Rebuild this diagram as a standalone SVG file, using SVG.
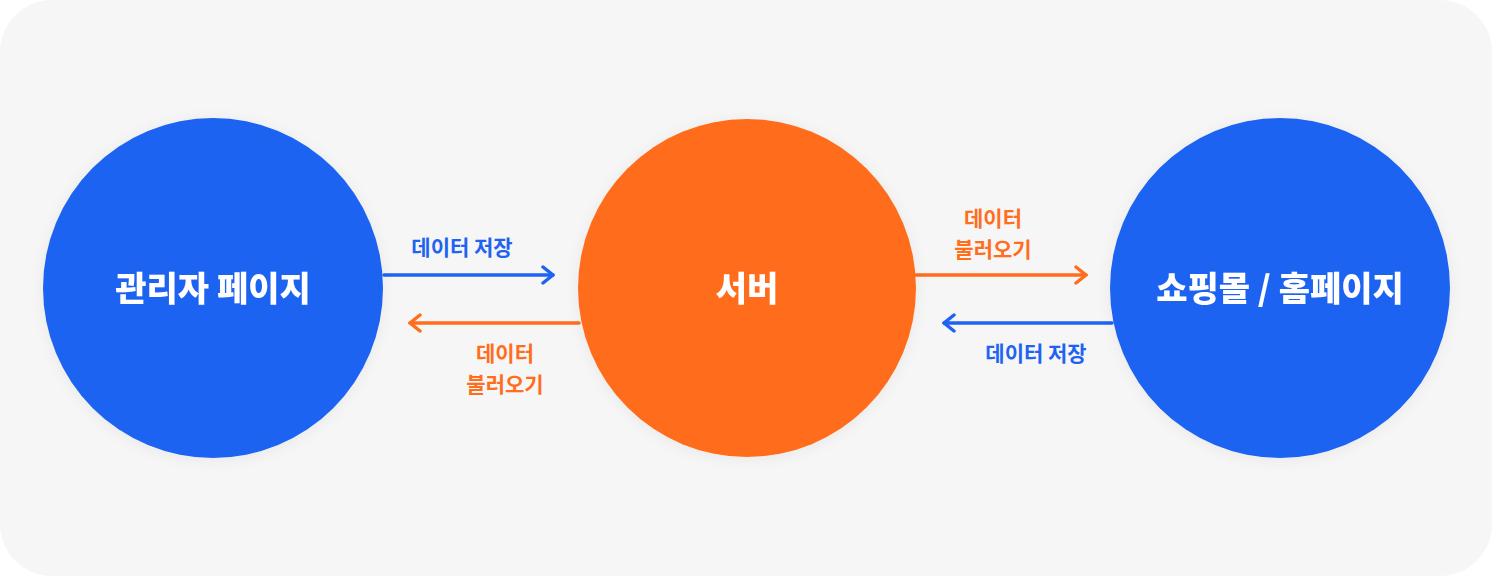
<svg xmlns="http://www.w3.org/2000/svg" width="1492" height="576" viewBox="0 0 1492 576">
  <style>
    .node-text { font-family: "Noto Sans CJK KR", "Noto Sans", sans-serif; font-weight: 800; font-size: 34px; fill: #ffffff; text-anchor: middle; dominant-baseline: central; }
    .lbl { font-family: "Noto Sans CJK KR", "Noto Sans", sans-serif; font-weight: 700; font-size: 21px; text-anchor: middle; dominant-baseline: central; }
    .blue-t { fill: #1f63f2; }
    .orange-t { fill: #ff6d1d; }
    .line { fill: none; stroke-width: 3.5; stroke-linecap: round; stroke-linejoin: round; }
    .blue-l { stroke: #1f63f2; }
    .orange-l { stroke: #ff6d1d; }
  </style>
  <defs>
    <marker id="headBlue" viewBox="0 0 20 20" refX="14" refY="10" markerWidth="20" markerHeight="20" markerUnits="userSpaceOnUse" orient="auto">
      <polyline points="4,2 14,10 4,18" fill="none" stroke="#1f63f2" stroke-width="3.5" stroke-linecap="round" stroke-linejoin="round"/>
    </marker>
    <marker id="headOrange" viewBox="0 0 20 20" refX="14" refY="10" markerWidth="20" markerHeight="20" markerUnits="userSpaceOnUse" orient="auto">
      <polyline points="4,2 14,10 4,18" fill="none" stroke="#ff6d1d" stroke-width="3.5" stroke-linecap="round" stroke-linejoin="round"/>
    </marker>
    <filter id="sh" x="-20%" y="-20%" width="140%" height="140%">
      <feGaussianBlur in="SourceAlpha" stdDeviation="8"/>
      <feOffset dy="2"/>
      <feComponentTransfer><feFuncA type="linear" slope="0.06"/></feComponentTransfer>
      <feMerge><feMergeNode/><feMergeNode in="SourceGraphic"/></feMerge>
    </filter>
  </defs>
  <rect x="0" y="0" width="1492" height="576" fill="#ffffff"/>
  <rect x="0" y="0" width="1492" height="576" rx="52" ry="52" fill="#f6f6f6"/>

  <g id="connectors">
    <line class="line blue-l" x1="384" y1="275" x2="553" y2="275" marker-end="url(#headBlue)"/>
    <line class="line orange-l" x1="579" y1="323" x2="410" y2="323" marker-end="url(#headOrange)"/>
    <line class="line orange-l" x1="916" y1="275" x2="1086" y2="275" marker-end="url(#headOrange)"/>
    <line class="line blue-l" x1="1112" y1="323" x2="944" y2="323" marker-end="url(#headBlue)"/>
    <text class="lbl blue-t" x="462" y="246">데이터 저장</text>
    <text class="lbl orange-t" x="505" y="352">데이터</text>
    <text class="lbl orange-t" x="505" y="383">불러오기</text>
    <text class="lbl orange-t" x="993" y="217">데이터</text>
    <text class="lbl orange-t" x="993" y="248">불러오기</text>
    <text class="lbl blue-t" x="1036" y="352">데이터 저장</text>
  </g>

  <g id="node-admin" filter="url(#sh)">
    <circle cx="213" cy="288" r="170" fill="#1f63f2"/>
    <text class="node-text" x="213" y="286">관리자 페이지</text>
  </g>
  <g id="node-server" filter="url(#sh)">
    <circle cx="747" cy="288" r="169" fill="#ff6d1d"/>
    <text class="node-text" x="747" y="286">서버</text>
  </g>
  <g id="node-shop" filter="url(#sh)">
    <circle cx="1280" cy="288" r="170" fill="#1f63f2"/>
    <text class="node-text" x="1280" y="286">쇼핑몰 / 홈페이지</text>
  </g>
</svg>
